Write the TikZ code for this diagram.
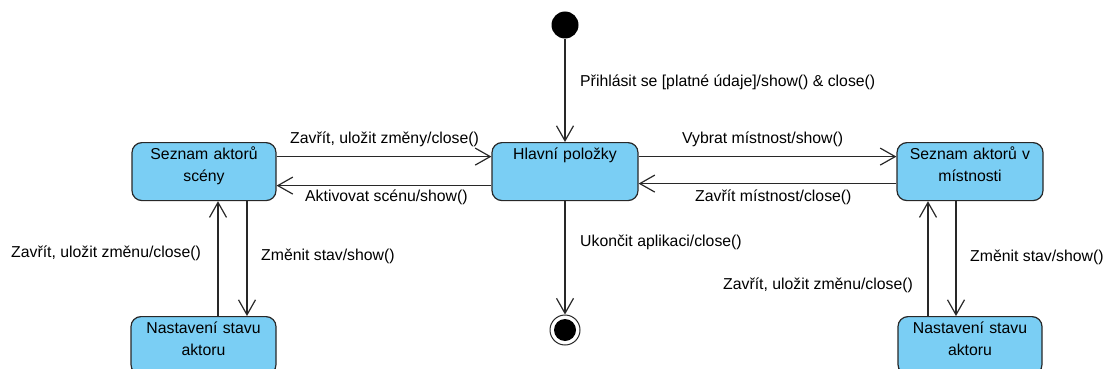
\documentclass[tikz,border=0pt]{standalone}
\usepackage{fontspec}
\setmainfont{Liberation Sans}
\usetikzlibrary{arrows.meta}
\definecolor{statefill}{RGB}{122,206,244}
\definecolor{edgecol}{RGB}{40,40,40}

\begin{document}
\begin{tikzpicture}[x=1pt,y=-1pt,
  font=\fontsize{15.8}{22}\selectfont,
  state/.style={draw=edgecol, line width=1.2pt, fill=statefill, rounded corners=10pt,
    inner sep=0pt, anchor=north, align=center, text height=16.5pt, text depth=41.5pt},
  trans/.style={draw=edgecol, line width=1.2pt, -{Straight Barb[length=15pt,width=17pt]}},
  lbl/.style={anchor=west, inner sep=0pt, text=black}]

\useasboundingbox (0,0) rectangle (1105,369);

% states
\node[state, text width=144pt] (A)  at (204,142)   {Seznam aktorů\\scény};
\node[state, text width=146pt] (M)  at (565,142)   {Hlavní položky};
\node[state, text width=146pt] (R)  at (970,142)   {Seznam aktorů v\\místnosti};
\node[state, text width=145pt] (LB) at (203.5,316) {Nastavení stavu\\aktoru};
\node[state, text width=144pt] (RB) at (970,316)   {Nastavení stavu\\aktoru};

% pseudo-states
\node[circle, fill=black, minimum size=27pt, inner sep=0pt] (init) at (565,25) {};
\node[circle, draw=edgecol, line width=1pt, minimum size=30pt, inner sep=0pt] (fin) at (565,330) {};
\node[circle, fill=black, minimum size=22pt, inner sep=0pt] (finDot) at (fin.center) {};

% transitions
\draw[trans] (init.south) -- (M.north);
\draw[trans] ([yshift=15pt]A.east) -- ([yshift=15pt]M.west);
\draw[trans] ([yshift=-14pt]M.west) -- ([yshift=-14pt]A.east);
\draw[trans] ([yshift=15pt]M.east) -- ([yshift=15pt]R.west);
\draw[trans] ([yshift=-12pt]R.west) -- ([yshift=-12pt]M.east);
\draw[trans] (M.south) -- (fin.north);
\draw[trans] ([xshift=14.5pt]LB.north) -- ([xshift=14pt]A.south);
\draw[trans] ([xshift=43pt]A.south) -- ([xshift=43.5pt]LB.north);
\draw[trans] ([xshift=-42pt]RB.north) -- ([xshift=-42pt]R.south);
\draw[trans] ([xshift=-14pt]R.south) -- ([xshift=-14pt]RB.north);

% transition labels
\node[lbl] (t1)  at (580,82)  {Přihlásit se [platné údaje]/show() \& close()};
\node[lbl] (t2)  at (290,139) {Zavřít, uložit změny/close()};
\node[lbl] (t3)  at (305,197) {Aktivovat scénu/show()};
\node[lbl] (t4)  at (682,139) {Vybrat místnost/show()};
\node[lbl] (t5)  at (695,197) {Zavřít místnost/close()};
\node[lbl] (t6)  at (580,242) {Ukončit aplikaci/close()};
\node[lbl] (t7)  at (11,253)  {Zavřít, uložit změnu/close()};
\node[lbl] (t8)  at (261,256) {Změnit stav/show()};
\node[lbl] (t9)  at (970,257) {Změnit stav/show()};
\node[lbl] (t10) at (723,285) {Zavřít, uložit změnu/close()};
\end{tikzpicture}
\end{document}
